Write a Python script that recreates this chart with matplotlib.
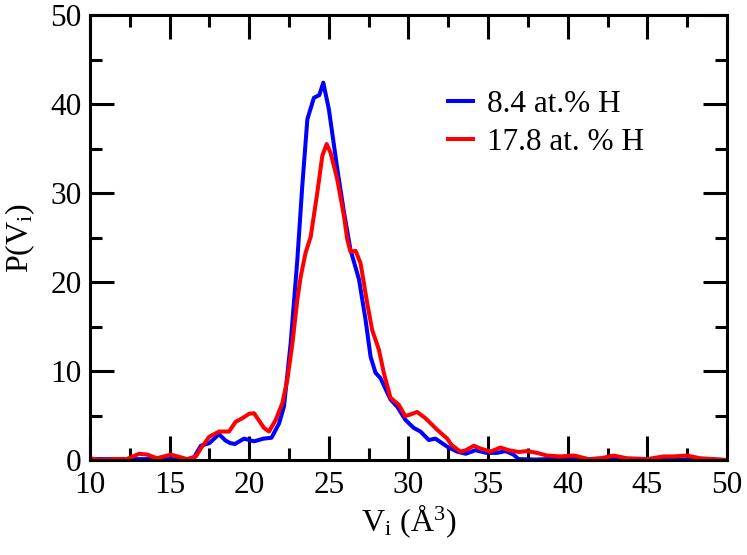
import matplotlib
matplotlib.use("Agg")
import matplotlib.pyplot as plt
from matplotlib.ticker import MultipleLocator

# ---- data ----
blue_label = "8.4 at.% H"
red_label = "17.8 at. % H"

blue_x = [10, 11, 12, 13, 14, 15, 16, 16.5, 16.96, 17.5, 18.1, 18.5, 18.8, 19.1, 19.67,
          20.3, 20.9, 21.4, 21.87, 22.18, 22.6, 23.02, 23.33, 23.65, 24.06, 24.4, 24.65,
          25.0, 25.53, 25.95, 26.36, 26.89, 27.3, 27.62, 27.93, 28.24, 28.87, 29.29, 29.81,
          30.33, 30.75, 31.27, 31.69, 32.43, 33.05, 33.6, 34.2, 34.9, 35.56, 36.1, 36.6,
          36.9, 38, 40, 41, 42.5, 44, 46, 48, 50]
blue_y = [0.1, 0.1, 0.1, 0.1, 0.1, 0.1, 0.05, 0.2, 1.6, 1.9, 2.9, 2.2, 1.9, 1.8, 2.4,
          2.1, 2.4, 2.5, 4.1, 6.0, 13.1, 22.5, 30.8, 38.3, 40.7, 41.0, 42.4,
          39.4, 32.7, 27.8, 23.6, 20.3, 15.8, 11.6, 9.8, 9.2, 6.8, 6.0, 4.5,
          3.6, 3.2, 2.25, 2.4, 1.5, 0.94, 0.7, 1.1, 0.8, 0.8, 1.0, 0.6,
          0.1, 0.05, 0.2, 0.05, 0.2, 0.05, 0.05, 0.05, 0.0]

red_x = [10, 10.6, 11.5, 12.3, 13.09, 13.6, 14.2, 15.08, 15.7, 16.1, 16.65, 16.96, 17.48,
         18.11, 18.73, 19.15, 19.57, 20.0, 20.3, 20.93, 21.24, 21.66, 22.08, 22.39, 22.71,
         23.02, 23.23, 23.54, 23.86, 24.27, 24.59, 24.86, 25.11, 25.53, 25.95, 26.15, 26.36,
         26.68, 26.99, 27.41, 27.72, 28.14, 28.45, 28.87, 29.39, 29.79, 30.1, 30.54, 31.06,
         31.8, 32.43, 32.7, 33.26, 33.6, 34.1, 34.5, 35.14, 35.77, 36.3, 36.92, 37.44,
         38.07, 38.69, 39.53, 40.4, 41.3, 42.1, 42.87, 43.7, 45.0, 46.0, 46.6, 47.5, 48.3,
         49.2, 50]
red_y = [0.2, 0.0, 0.1, 0.1, 0.7, 0.6, 0.2, 0.6, 0.3, 0.1, 0.4, 1.3, 2.6,
         3.2, 3.2, 4.3, 4.7, 5.2, 5.25, 3.6, 3.2, 4.5, 6.4, 9.0, 13.1,
         18.0, 20.6, 23.3, 25.1, 30.0, 34.2, 35.5, 34.5, 31.5, 27.4, 24.8, 23.4,
         23.5, 22.1, 17.6, 14.6, 12.4, 9.8, 7.0, 6.2, 4.95, 5.1, 5.4, 4.7,
         3.4, 2.4, 1.7, 0.94, 1.1, 1.6, 1.3, 0.94, 1.4, 1.1, 0.9, 1.0,
         0.8, 0.5, 0.4, 0.5, 0.1, 0.2, 0.5, 0.2, 0.1, 0.4, 0.4, 0.5, 0.2,
         0.1, 0.0]

x_label = "V$_{\\rm i}$ (Å$^{3}$)"
y_label = "P(V$_{\\rm i}$)"

plt.rcParams["font.family"] = ["Liberation Serif", "DejaVu Serif"]
plt.rcParams["mathtext.fontset"] = "custom"
plt.rcParams["mathtext.rm"] = "Liberation Serif"
plt.rcParams["mathtext.it"] = "Liberation Serif:italic"

fig = plt.figure(figsize=(7.47, 5.55), dpi=100)
ax = fig.add_axes([90 / 747, 1 - 460 / 555, (727 - 90) / 747, (460 - 15) / 555])

ax.plot(blue_x, blue_y, color="#0000ff", lw=2.9, label=blue_label)
ax.plot(red_x, red_y, color="#ff0000", lw=2.9, label=red_label)

ax.set_xlim(10, 50)
ax.set_ylim(0, 50)
ax.xaxis.set_major_locator(MultipleLocator(5))
ax.xaxis.set_minor_locator(MultipleLocator(2.5))
ax.yaxis.set_major_locator(MultipleLocator(10))
ax.yaxis.set_minor_locator(MultipleLocator(5))

for s in ax.spines.values():
    s.set_linewidth(2.2)

ax.tick_params(axis="x", which="major", direction="in", length=17, width=2.2,
               color="black", bottom=True, top=True, labelsize=22.5, pad=8)
ax.tick_params(axis="y", which="major", direction="in", length=17, width=2.2,
               color="black", left=True, right=True, labelsize=22.5, pad=6)
ax.tick_params(axis="x", which="minor", direction="in", length=8.5, width=2.2,
               color="black", bottom=True, top=True)
ax.tick_params(axis="y", which="minor", direction="in", length=8.5, width=2.2,
               color="black", left=True, right=True)

ax.set_xlabel(x_label, fontsize=23, labelpad=2)
ax.set_ylabel(y_label, fontsize=23, labelpad=10)

leg = ax.legend(loc="upper left", bbox_to_anchor=((448 - 90) / 637, (460 - 90) / 445),
                frameon=False, fontsize=22.5, handlelength=0.8, handletextpad=0.45,
                labelspacing=0.3, borderpad=0, borderaxespad=0)

fig.savefig("out.png", dpi=100)
